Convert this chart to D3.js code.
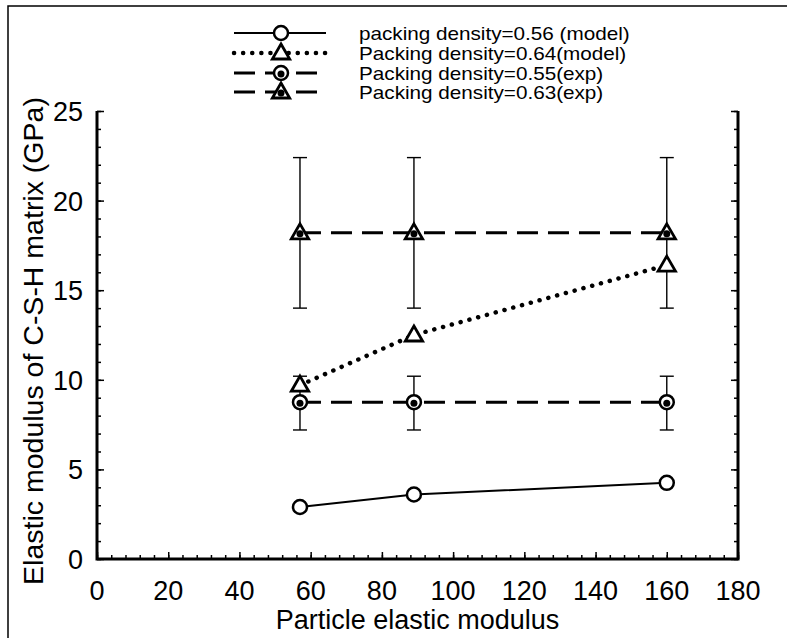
<!DOCTYPE html>
<html>
<head>
<meta charset="utf-8">
<script src="https://cdn.jsdelivr.net/npm/d3@7"></script>
<style>
  body { margin: 0; background: #fff; }
  svg { display: block; font-family: "Liberation Sans", Arial, sans-serif; }
</style>
</head>
<body>
<svg id="chart"></svg>
<script>
// data
const particleModulus = [57, 89, 160];
const model056 = [2.9, 3.6, 4.25];
const model064 = [9.7, 12.5, 16.4];
const exp055 = [8.75, 8.75, 8.75];
const exp055Low = [7.2, 7.2, 7.2];
const exp055High = [10.2, 10.2, 10.2];
const exp063 = [18.2, 18.2, 18.2];
const exp063Low = [14, 14, 14];
const exp063High = [22.4, 22.4, 22.4];
const seriesNames = [
  "packing density=0.56 (model)",
  "Packing density=0.64(model)",
  "Packing density=0.55(exp)",
  "Packing density=0.63(exp)"
];
const xTicks = [0, 20, 40, 60, 80, 100, 120, 140, 160, 180];
const yTicks = [0, 5, 10, 15, 20, 25];

const width = 787, height = 638;
const pLeft = 97, pRight = 738, pTop = 111, pBottom = 559;

const svg = d3.select("#chart").attr("width", width).attr("height", height);

// outer frame (left + top only visible)
svg.append("path")
  .attr("d", `M8,${height} L8,6 L${width},6`)
  .attr("fill", "none").attr("stroke", "#000").attr("stroke-width", 1.5);

const x = d3.scaleLinear().domain([0, 180]).range([pLeft, pRight]);
const y = d3.scaleLinear().domain([0, 25]).range([pBottom, pTop]);

// axes: ticks pointing inward
const xMinor = d3.range(0, 181, 4);
const yMinor = d3.range(0, 26, 1);

const axes = [
  svg.append("g").attr("transform", `translate(0,${pBottom})`)
    .call(d3.axisTop(x).tickValues(xMinor).tickSize(4).tickFormat("")),
  svg.append("g").attr("transform", `translate(0,${pBottom})`)
    .call(d3.axisTop(x).tickValues(xTicks).tickSize(7).tickFormat("")),
  svg.append("g").attr("transform", `translate(${pLeft},0)`)
    .call(d3.axisRight(y).tickValues(yMinor).tickSize(4).tickFormat("")),
  svg.append("g").attr("transform", `translate(${pLeft},0)`)
    .call(d3.axisRight(y).tickValues(yTicks).tickSize(7).tickFormat("")),
  svg.append("g").attr("transform", `translate(${pRight},0)`)
    .call(d3.axisLeft(y).tickValues(yMinor).tickSize(4).tickFormat("")),
  svg.append("g").attr("transform", `translate(${pRight},0)`)
    .call(d3.axisLeft(y).tickValues(yTicks).tickSize(7).tickFormat(""))
];
axes.forEach(g => {
  g.select(".domain").remove();
  g.selectAll(".tick line").attr("stroke", "#000").attr("stroke-width", 1.5);
});
svg.append("path")
  .attr("d", `M${pLeft},${pTop} L${pLeft},${pBottom} L${pRight},${pBottom} L${pRight},${pTop}`)
  .attr("fill", "none").attr("stroke", "#000").attr("stroke-width", 3);

// tick labels
svg.append("g").selectAll("text").data(xTicks).join("text")
  .attr("x", d => x(d)).attr("y", pBottom + 41)
  .attr("text-anchor", "middle").attr("font-size", 27).text(d => d);
svg.append("g").selectAll("text").data(yTicks).join("text")
  .attr("x", pLeft - 14).attr("y", d => y(d) + 10)
  .attr("text-anchor", "end").attr("font-size", 27).text(d => d);

// axis titles
svg.append("text")
  .attr("x", (pLeft + pRight) / 2).attr("y", 629)
  .attr("text-anchor", "middle").attr("font-size", 27)
  .text("Particle elastic modulus");
svg.append("text")
  .attr("transform", `translate(43,341) rotate(-90)`)
  .attr("text-anchor", "middle").attr("font-size", 28.5)
  .text("Elastic modulus of C-S-H matrix (GPa)");

// error bars
function errorBars(lo, hi) {
  const g = svg.append("g").attr("stroke", "#000").attr("stroke-width", 1.4);
  particleModulus.forEach((px, i) => {
    g.append("line").attr("x1", x(px)).attr("x2", x(px)).attr("y1", y(lo[i])).attr("y2", y(hi[i]));
    [lo[i], hi[i]].forEach(v => {
      g.append("line").attr("x1", x(px) - 7).attr("x2", x(px) + 7).attr("y1", y(v)).attr("y2", y(v));
    });
  });
}
errorBars(exp063Low, exp063High);
errorBars(exp055Low, exp055High);

const line = d3.line().x((d, i) => x(particleModulus[i])).y(d => y(d));

const styles = [
  { vals: model056, dash: null, width: 2, cap: "butt", marker: "circle", dot: false },
  { vals: model064, dash: "0.1 9", width: 4.5, cap: "round", marker: "triangle", dot: false },
  { vals: exp055, dash: "21 10", width: 3, cap: "butt", marker: "circle", dot: true },
  { vals: exp063, dash: "21 10", width: 3, cap: "butt", marker: "triangle", dot: true }
];

function drawMarker(g, cx, cy, s) {
  if (s.marker === "circle") {
    g.append("circle").attr("cx", cx).attr("cy", cy).attr("r", 7)
      .attr("fill", "#fff").attr("stroke", "#000").attr("stroke-width", 2.5);
  } else {
    const tri = d3.symbol().type(d3.symbolTriangle).size(130);
    g.append("path").attr("d", tri()).attr("transform", `translate(${cx},${cy + 1})`)
      .attr("fill", "#fff").attr("stroke", "#000").attr("stroke-width", 2.8)
      .attr("stroke-linejoin", "miter");
  }
  if (s.dot) {
    g.append("circle").attr("cx", cx).attr("cy", cy + 1).attr("r", 3.5).attr("fill", "#000");
  }
}

styles.forEach(s => {
  svg.append("path").datum(s.vals).attr("d", line)
    .attr("fill", "none").attr("stroke", "#000").attr("stroke-width", s.width)
    .attr("stroke-linecap", s.cap).attr("stroke-dasharray", s.dash);
  const g = svg.append("g");
  s.vals.forEach((v, i) => drawMarker(g, x(particleModulus[i]), y(v), s));
});

// legend
const legY = [33, 53, 73, 92];
styles.forEach((s, i) => {
  const g = svg.append("g");
  const ly = legY[i];
  g.append("line").attr("x1", 234).attr("x2", 326).attr("y1", ly).attr("y2", ly)
    .attr("stroke", "#000").attr("stroke-width", s.width)
    .attr("stroke-linecap", s.cap).attr("stroke-dasharray", s.dash);
  drawMarker(g, 281, ly, s);
  // legend font in the reference is a touch wider than Liberation Sans
  g.append("text").attr("transform", `translate(359,${ly + 6.5}) scale(1.15,1)`)
    .attr("font-size", 18).text(seriesNames[i]);
});
</script>
</body>
</html>
